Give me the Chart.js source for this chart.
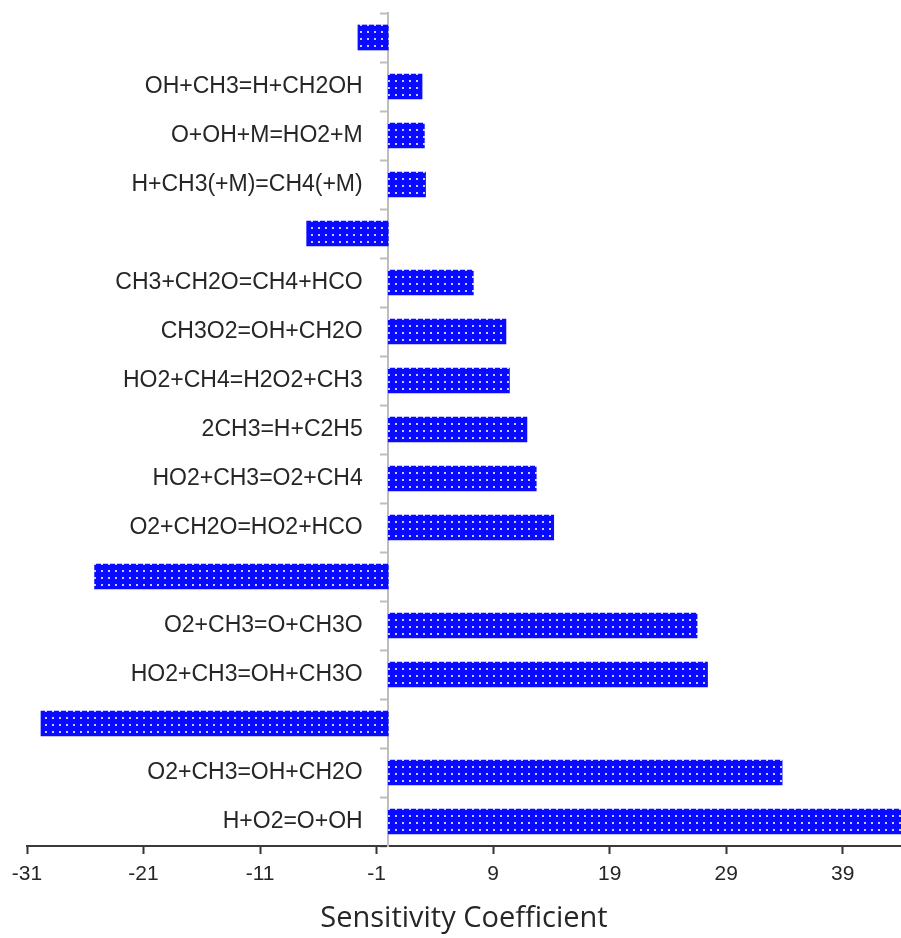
<!DOCTYPE html>
<html>
<head>
<meta charset="utf-8">
<title>Sensitivity Coefficient</title>
<script src="https://cdn.jsdelivr.net/npm/chart.js@4/dist/chart.umd.min.js"></script>
<style>
  html, body { margin: 0; padding: 0; background: #ffffff; }
  #wrap { width: 901px; height: 938px; position: relative; }
</style>
</head>
<body>
<div id="wrap"><canvas id="chart"></canvas></div>
<script>
// Reactions, listed top to bottom (negative-coefficient rows carry no label)
const reactions = [
  '',
  'OH+CH3=H+CH2OH',
  'O+OH+M=HO2+M',
  'H+CH3(+M)=CH4(+M)',
  '',
  'CH3+CH2O=CH4+HCO',
  'CH3O2=OH+CH2O',
  'HO2+CH4=H2O2+CH3',
  '2CH3=H+C2H5',
  'HO2+CH3=O2+CH4',
  'O2+CH2O=HO2+HCO',
  '',
  'O2+CH3=O+CH3O',
  'HO2+CH3=OH+CH3O',
  '',
  'O2+CH3=OH+CH2O',
  'H+O2=O+OH'
];

// Sensitivity coefficient of each reaction
const coefficients = [
  -2.6, 2.9, 3.1, 3.2, -7.0, 7.3, 10.1, 10.4, 11.9, 12.7, 14.2,
  -25.2, 26.5, 27.4, -29.8, 33.8, 45
];

// Value-axis tick labels
const xTicks = [-31, -21, -11, -1, 9, 19, 29, 39];

// Blue fill with a fine grid of light dots
function dottedFill() {
  const tile = document.createElement('canvas');
  tile.width = 7;
  tile.height = 7;
  const t = tile.getContext('2d');
  t.fillStyle = '#0a0aff';
  t.fillRect(0, 0, 7, 7);
  t.fillStyle = '#c9cbff';
  t.fillRect(3, 3, 2, 2);
  return t.createPattern(tile, 'repeat');
}

// The reaction names sit just left of the zero line; trailing spaces keep a gap
const GAP = '    ';

const ctx = document.getElementById('chart').getContext('2d');

new Chart(ctx, {
  type: 'bar',
  data: {
    labels: reactions,
    datasets: [{
      data: coefficients,
      backgroundColor: dottedFill(),
      borderWidth: 0,
      barThickness: 25
    }]
  },
  options: {
    indexAxis: 'y',
    responsive: true,
    maintainAspectRatio: false,
    animation: false,
    layout: { padding: { top: 13, left: 27, right: 0, bottom: 2 } },
    plugins: {
      legend: { display: false },
      tooltip: { enabled: false }
    },
    scales: {
      x: {
        type: 'linear',
        min: -31,
        max: 44,
        afterBuildTicks: (scale) => {
          scale.ticks = xTicks.map(v => ({ value: v }));
        },
        ticks: {
          autoSkip: false,
          maxRotation: 0,
          padding: 8,
          color: '#262626',
          font: { family: 'Liberation Sans, Arial, sans-serif', size: 21 },
          callback: (v) => String(v)
        },
        grid: {
          drawOnChartArea: false,
          drawTicks: true,
          tickLength: 8,
          tickWidth: 2,
          color: '#333333'
        },
        border: { display: true, color: '#3a3a3a', width: 2 },
        title: {
          display: true,
          text: 'Sensitivity Coefficient',
          color: '#262626',
          font: { family: 'Open Sans, sans-serif', size: 29 },
          padding: { top: 6, bottom: 0 }
        }
      },
      y: {
        type: 'category',
        position: { x: 0 },
        offset: true,
        afterFit: (scale) => {
          // the plot area should start right at the top padding
          scale.paddingTop = 0;
          scale.paddingBottom = 0;
        },
        ticks: {
          autoSkip: false,
          padding: 17,
          color: '#262626',
          font: { family: 'Liberation Sans, Arial, sans-serif', size: 23 },
          callback: function (v) {
            const name = this.getLabelForValue(v);
            return name ? name + GAP : '';
          }
        },
        grid: {
          offset: true,
          drawOnChartArea: false,
          drawTicks: true,
          tickLength: 7,
          tickWidth: 2,
          color: '#bdbdbd'
        },
        border: { display: true, color: '#bdbdbd', width: 2 }
      }
    }
  }
});
</script>
</body>
</html>
